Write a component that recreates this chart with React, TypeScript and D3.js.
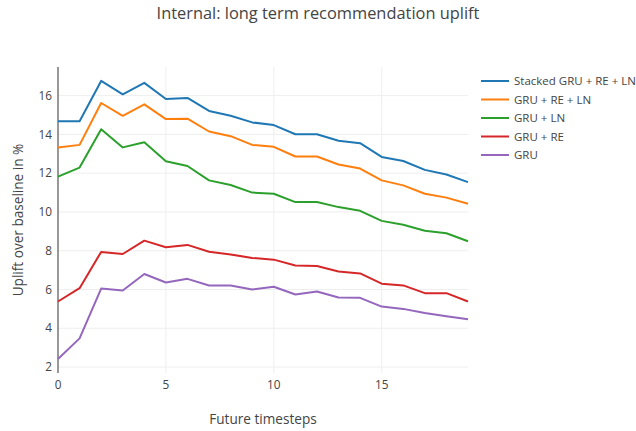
import React from 'react'
import * as d3 from 'd3'

const timesteps = d3.range(0, 20)

const seriesNames = ['Stacked GRU + RE + LN', 'GRU + RE + LN', 'GRU + LN', 'GRU + RE', 'GRU']
const seriesColors = ['#1f77b4', '#ff7f0e', '#2ca02c', '#d62728', '#9467bd']

const stackedGruReLn = [14.68, 14.68, 16.76, 16.07, 16.66, 15.83, 15.88, 15.21, 14.96, 14.62, 14.48, 14.01, 14.01, 13.67, 13.55, 12.84, 12.63, 12.17, 11.93, 11.54]
const gruReLn = [13.33, 13.46, 15.62, 14.96, 15.55, 14.79, 14.81, 14.15, 13.91, 13.46, 13.36, 12.86, 12.86, 12.45, 12.24, 11.63, 11.37, 10.94, 10.74, 10.42]
const gruLn = [11.82, 12.29, 14.27, 13.33, 13.6, 12.62, 12.37, 11.63, 11.39, 11.0, 10.94, 10.51, 10.51, 10.25, 10.06, 9.54, 9.34, 9.03, 8.9, 8.49]
const gruRe = [5.38, 6.07, 7.94, 7.83, 8.52, 8.18, 8.3, 7.95, 7.81, 7.63, 7.54, 7.24, 7.21, 6.93, 6.83, 6.3, 6.21, 5.81, 5.81, 5.38]
const gru = [2.41, 3.48, 6.05, 5.95, 6.8, 6.36, 6.55, 6.21, 6.21, 6.0, 6.14, 5.74, 5.9, 5.59, 5.57, 5.12, 5.0, 4.79, 4.62, 4.47]

const seriesValues = [stackedGruReLn, gruReLn, gruLn, gruRe, gru]

const xTicks = [0, 5, 10, 15]
const yTicks = [2, 4, 6, 8, 10, 12, 14, 16]

const title = 'Internal: long term recommendation uplift'
const xTitle = 'Future timesteps'
const yTitle = 'Uplift over baseline in %'

const WIDTH = 636
const HEIGHT = 431
const margin = { left: 58, right: 168, top: 67, bottom: 58 }
const font = '"Open Sans", sans-serif'
const textColor = '#444'

const App = () => {
    const plotW = WIDTH - margin.left - margin.right
    const plotH = HEIGHT - margin.top - margin.bottom

    // plotly-style autorange: 5% padding on y, none on x for lines
    const all = seriesValues.flat()
    const yMin = d3.min(all)
    const yMax = d3.max(all)
    const pad = (yMax - yMin) * 0.05
    const xScale = d3.scaleLinear().domain([0, 19]).range([0, plotW])
    const yScale = d3.scaleLinear().domain([yMin - pad, yMax + pad]).range([plotH, 0])

    const line = d3.line<number>()
        .x((_, i) => xScale(timesteps[i]))
        .y((d) => yScale(d))

    return (
        <svg width={WIDTH} height={HEIGHT} style={{ position: 'absolute', left: 0, top: 0, fontFamily: font }}>
            <rect width={WIDTH} height={HEIGHT} fill="#fff" />
            <text x={WIDTH / 2} y={19} textAnchor="middle" fontSize={16.4} fill={textColor}>{title}</text>
            <g transform={`translate(${margin.left}, ${margin.top})`}>
                {yTicks.map((t) => (
                    <line key={'gy' + t} x1={0} x2={plotW} y1={yScale(t)} y2={yScale(t)} stroke="#eee" strokeWidth={1} />
                ))}
                {xTicks.filter((t) => t !== 0).map((t) => (
                    <line key={'gx' + t} x1={xScale(t)} x2={xScale(t)} y1={0} y2={plotH} stroke="#eee" strokeWidth={1} />
                ))}
                <line x1={xScale(0)} x2={xScale(0)} y1={0} y2={plotH} stroke="#444" strokeOpacity={0.55} strokeWidth={2} />
                {seriesValues.map((values, i) => (
                    <path key={seriesNames[i]} d={line(values)} fill="none" stroke={seriesColors[i]} strokeWidth={2} strokeLinejoin="round" />
                ))}
                {yTicks.map((t) => (
                    <text key={'ty' + t} x={-6} y={yScale(t)} dy="0.35em" textAnchor="end" fontSize={11.8} fill={textColor}>{t}</text>
                ))}
                {xTicks.map((t) => (
                    <text key={'tx' + t} x={xScale(t)} y={plotH + 16} textAnchor="middle" fontSize={11.8} fill={textColor}>{t}</text>
                ))}
                <text x={plotW / 2} y={plotH + 51} textAnchor="middle" fontSize={13.6} fill={textColor}>{xTitle}</text>
                <text transform={`translate(${-35}, ${plotH / 2}) rotate(-90)`} textAnchor="middle" fontSize={13.6} fill={textColor}>{yTitle}</text>
            </g>
            <g transform={`translate(481, 81)`}>
                {seriesNames.map((name, i) => (
                    <g key={name} transform={`translate(0, ${i * 18.5})`}>
                        <line x1={0} x2={28} y1={0} y2={0} stroke={seriesColors[i]} strokeWidth={2} />
                        <text x={33} y={0} dy="0.35em" fontSize={11.5} fill={textColor}>{name}</text>
                    </g>
                ))}
            </g>
        </svg>
    )
}

export default App
